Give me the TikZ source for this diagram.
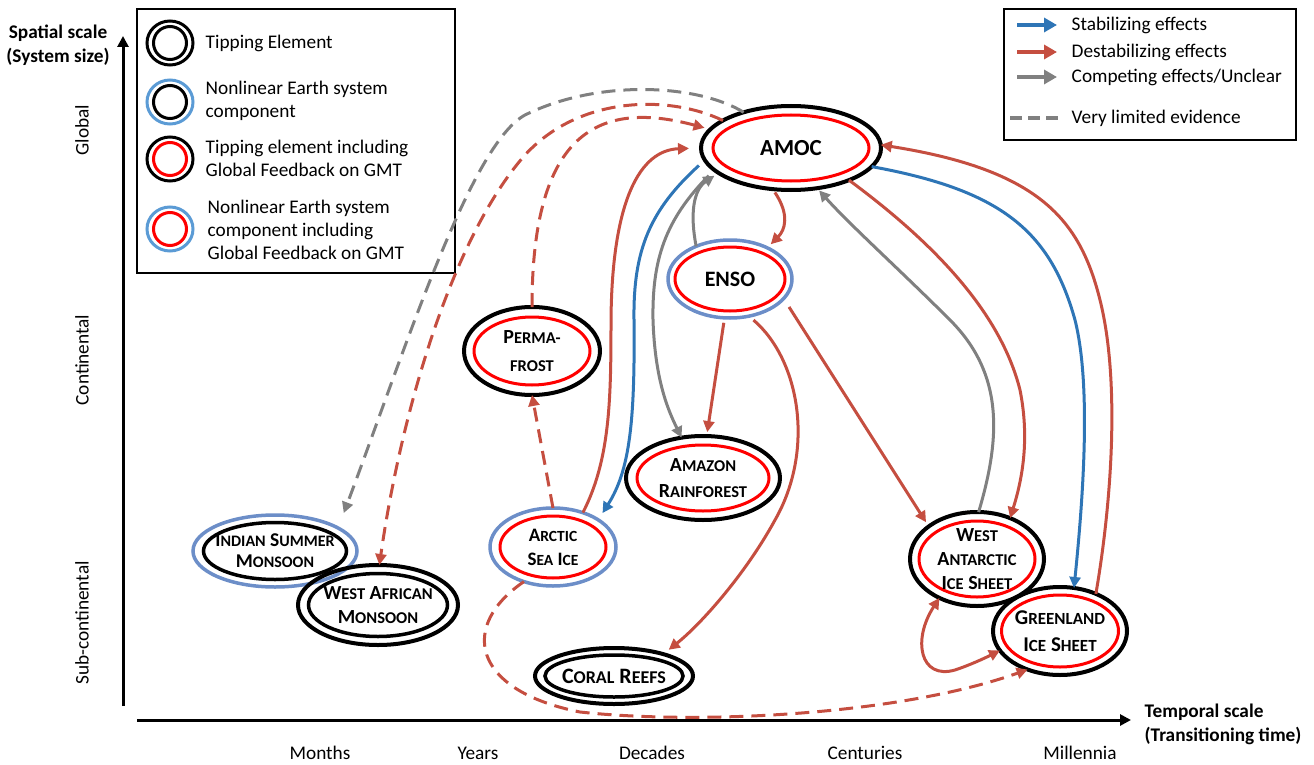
\documentclass[tikz,border=0pt]{standalone}
\usepackage{fontspec}
\setmainfont{Carlito}
\usetikzlibrary{arrows.meta,shapes.geometric}

\definecolor{destabred}{RGB}{197,78,64}
\definecolor{stabblue}{RGB}{46,117,182}
\definecolor{competgray}{RGB}{128,128,128}
\definecolor{ringred}{RGB}{255,0,0}
\definecolor{ringblue}{RGB}{108,142,200}
\definecolor{legblue}{RGB}{91,155,213}

\newcommand{\smcsize}{16.5}
\newcommand{\smc}[1]{{\fontsize{\smcsize}{\smcsize}\selectfont #1}}

\tikzset{every picture/.style={line width=0.75pt}}
\tikzset{
	>={Triangle[length=11pt,width=11pt]},
	outring/.style={ellipse, inner sep=0pt, outer sep=0pt, draw=#1, line width=4pt},
	outring/.default=black,
	inring/.style={ellipse, inner sep=0pt, outer sep=0pt, draw=#1, line width=3pt},
	inring/.default=ringred,
	lbl/.style n args={3}{align=center, inner sep=0pt, font=\fontsize{#1}{#2}\selectfont\bfseries\def\smcsize{#3}},
	legtext/.style={anchor=west, align=left, font=\fontsize{19.3}{23}\selectfont},
	axislabel/.style={font=\fontsize{19.3}{23}\selectfont},
	arr/.style={->, line width=3pt},
	stab/.style={arr, draw=stabblue},
	destab/.style={arr, draw=destabred},
	compet/.style={arr, draw=competgray},
	limited/.style={dash pattern=on 14pt off 8pt},
	axis/.style={line width=3pt, -{Triangle[length=11pt,width=11pt]}}
}

\begin{document}
\begin{tikzpicture}[x=1pt,y=1pt,yscale=-1,xscale=1]
	\useasboundingbox (0,0) rectangle (1314,765);

	% Axes
	\coordinate (yfoot) at (123,706);
	\coordinate (ytop) at (123,36);
	\coordinate (xfoot) at (137,720);
	\coordinate (xtop) at (1131,720);
	\draw [axis] (yfoot) -- (ytop);
	\draw [axis] (xfoot) -- (xtop);

	% Axis texts
	\node [axislabel, font=\fontsize{19.3}{24}\selectfont\bfseries, align=center] (spatial) at (58,45) {Spatial scale\\(System size)};
	\node [axislabel, font=\fontsize{19.3}{24}\selectfont\bfseries, anchor=west, align=left] (temporal) at (1141,724) {Temporal scale\\(Transitioning time)};
	\node [axislabel, rotate=90] (global) at (82,130) {Global};
	\node [axislabel, rotate=90] (continental) at (82,360) {Continental};
	\node [axislabel, rotate=90] (subcont) at (82,623) {Sub-continental};
	\node [axislabel] (months) at (320,753) {Months};
	\node [axislabel] (years) at (478,753) {Years};
	\node [axislabel] (decades) at (652,753) {Decades};
	\node [axislabel] (centuries) at (865,753) {Centuries};
	\node [axislabel] (millennia) at (1080,753) {Millennia};

	% Legend: node types
	\draw [line width=2.2pt] (137,9) rectangle (455,273);
	\node [outring, line width=3pt, minimum width=46pt, minimum height=44pt] (leg1) at (170,43) {};
	\node [inring=black, minimum size=33pt] (leg1in) at (leg1) {};
	\node [legtext] (leg1txt) at (202,43) {Tipping Element};
	\node [outring=legblue, line width=3pt, minimum width=46pt, minimum height=44pt] (leg2) at (170,102) {};
	\node [inring=black, minimum size=33pt] (leg2in) at (leg2) {};
	\node [legtext] (leg2txt) at (202,101) {Nonlinear Earth system\\component};
	\node [outring, line width=3pt, minimum width=46pt, minimum height=44pt] (leg3) at (170,159) {};
	\node [inring, minimum size=33pt] (leg3in) at (leg3) {};
	\node [legtext] (leg3txt) at (202,158) {Tipping element including\\Global Feedback on GMT};
	\node [outring=legblue, line width=3pt, minimum width=46pt, minimum height=44pt] (leg4) at (170,229) {};
	\node [inring, minimum size=33pt] (leg4in) at (leg4) {};
	\node [legtext] (leg4txt) at (204,230) {Nonlinear Earth system\\component including\\Global Feedback on GMT};

	% Legend: connector types
	\draw [line width=2.2pt] (1004,9) rectangle (1296,140);
	\node [legtext] (lstab) at (1068,25) {Stabilizing effects};
	\node [legtext] (ldestab) at (1068,52) {Destabilizing effects};
	\node [legtext] (lcompet) at (1068,77) {Competing effects/Unclear};
	\node [legtext] (llimited) at (1068,118) {Very limited evidence};
	\draw [stab, line width=4pt, -{Triangle[length=13pt,width=14pt]}] ([xshift=-51pt]lstab.west) -- ([xshift=-11pt]lstab.west);
	\draw [destab, line width=4pt, -{Triangle[length=13pt,width=14pt]}] ([xshift=-51pt]ldestab.west) -- ([xshift=-11pt]ldestab.west);
	\draw [compet, line width=4pt, -{Triangle[length=13pt,width=14pt]}] ([xshift=-51pt]lcompet.west) -- ([xshift=-11pt]lcompet.west);
	\draw [competgray, line width=4pt, dash pattern=on 12pt off 6pt] ([xshift=-58pt]llimited.west) -- ([xshift=-10pt]llimited.west);

	% Tipping elements
	\node [outring, minimum width=180pt, minimum height=84pt] (amoc) at (791,148) {};
	\node [inring, minimum width=156pt, minimum height=66pt] (amocin) at (amoc) {};
	\node [lbl={23}{26}{18}] (amoctxt) at (amoc) {AMOC};
	\node [outring=ringblue, line width=3.5pt, minimum width=124pt, minimum height=78pt] (enso) at (730,279) {};
	\node [inring, minimum width=110pt, minimum height=64pt] (ensoin) at (enso) {};
	\node [lbl={22}{26}{18}] (ensotxt) at (enso) {ENSO};
	\node [outring, minimum width=136pt, minimum height=88pt] (perma) at (532,351) {};
	\node [inring, minimum width=116pt, minimum height=68pt] (permain) at (perma) {};
	\node [lbl={20}{28}{16.5}] (permatxt) at (perma) {P\smc{ERMA-}\\\smc{FROST}};
	\node [outring, minimum width=154pt, minimum height=84pt] (amazon) at (703,478) {};
	\node [inring, minimum width=132pt, minimum height=66pt] (amazonin) at (amazon) {};
	\node [lbl={20}{26}{16.5}] (amazontxt) at (amazon) {A\smc{MAZON}\\R\smc{AINFOREST}};
	\node [outring=ringblue, line width=3.5pt, minimum width=126pt, minimum height=78pt] (arctic) at (553,547) {};
	\node [inring, minimum width=106pt, minimum height=62pt] (arcticin) at (arctic) {};
	\node [lbl={19}{24}{15.5}] (arctictxt) at (arctic) {A\smc{RCTIC}\\S\smc{EA} I\smc{CE}};
	\node [outring=ringblue, line width=3.5pt, minimum width=164pt, minimum height=72pt] (ism) at (275,551) {};
	\node [inring=black, line width=3.5pt, minimum width=143pt, minimum height=57pt] (ismin) at (ism) {};
	\node [lbl={19.5}{21}{16}] (ismtxt) at (ism) {I\smc{NDIAN} S\smc{UMMER}\\M\smc{ONSOON}};
	\node [outring, minimum width=160pt, minimum height=80pt] (wam) at (378,605) {};
	\node [inring=black, line width=3.5pt, minimum width=139pt, minimum height=63pt] (wamin) at (wam) {};
	\node [lbl={20}{24}{16.5}] (wamtxt) at (wam) {W\smc{EST} A\smc{FRICAN}\\M\smc{ONSOON}};
	\node [outring, minimum width=158pt, minimum height=56pt] (coral) at (614,676) {};
	\node [inring=black, line width=3.5pt, minimum width=138pt, minimum height=42pt] (coralin) at (coral) {};
	\node [lbl={22}{26}{18}] (coraltxt) at (coral) {C\smc{ORAL} R\smc{EEFS}};
	\node [outring, minimum width=134pt, minimum height=94pt] (wais) at (977,559) {};
	\node [inring, minimum width=116pt, minimum height=76pt] (waisin) at (wais) {};
	\node [lbl={20}{24}{16.5}] (waistxt) at (wais) {W\smc{EST}\\A\smc{NTARCTIC}\\I\smc{CE} S\smc{HEET}};
	\node [outring, minimum width=134pt, minimum height=88pt] (greenland) at (1060,631) {};
	\node [inring, minimum width=117pt, minimum height=72pt] (greenlandin) at (greenland) {};
	\node [lbl={21}{27}{17}] (greenlandtxt) at (greenland) {G\smc{REENLAND}\\I\smc{CE} S\smc{HEET}};

	% Very limited evidence
	\draw [compet, limited, shorten >=16pt] (amoc.143) .. controls (700,85) and (600,78) .. (525,115) .. controls (470,145) and (405,350) .. (ism.20);
	\draw [destab, limited] (amoc.158) .. controls (670,95) and (580,95) .. (525,155) .. controls (450,240) and (400,420) .. (wam.88);
	\draw [destab, limited, shorten >=6pt] (perma.north) .. controls (532,130) and (600,100) .. (amoc.167);
	\draw [destab, limited] (arctic.north) -- (perma.south);
	\draw [destab, limited] (arctic.230) .. controls (460,625) and (470,690) .. (580,712) .. controls (700,725) and (900,715) .. (greenland.230);

	% Arctic sea ice and AMOC
	\draw [destab, shorten >=12pt] (arctic.49) .. controls (610,460) and (611,400) .. (611,320) .. controls (612,200) and (640,150) .. (amoc.west);
	\draw [stab, shorten <=8pt, shorten >=8pt] (amoc.188) .. controls (650,210) and (633,250) .. (634,320) .. controls (635,420) and (630,470) .. (arctic.31);
	\draw [compet, shorten <=8pt] (amoc.196) .. controls (665,220) and (652,260) .. (653,320) .. controls (655,380) and (668,410) .. (amazon.118);

	% ENSO
	\draw [compet, shorten >=5pt] (enso.136) .. controls (690,215) and (693,190) .. (amoc.199);
	\draw [destab, shorten <=4pt, shorten >=5pt] (amoc.246) .. controls (790,215) and (785,230) .. (enso.40);
	\draw [destab, shorten <=5pt, shorten >=4pt] (enso.262) -- (amazon.85);
	\draw [destab, shorten <=6pt, shorten >=7pt] (enso.297) .. controls (800,360) and (815,450) .. (775,520) .. controls (745,575) and (700,625) .. (coral.24);
	\draw [destab, shorten <=10pt, shorten >=5pt] (enso.340) -- (wais.146);

	% Ice sheets
	\draw [compet, shorten >=3pt] (wais.88) .. controls (1000,440) and (1005,375) .. (950,320) .. controls (900,270) and (850,225) .. (amoc.303);
	\draw [destab] (amoc.331) .. controls (930,240) and (1000,310) .. (1020,390) .. controls (1030,440) and (1022,480) .. (wais.51);
	\draw [stab] (amoc.347) .. controls (1000,190) and (1050,230) .. (1075,320) .. controls (1090,380) and (1085,480) .. (greenland.72);
	\draw [destab] (greenland.46) .. controls (1112,500) and (1120,380) .. (1100,300) .. controls (1080,220) and (1040,170) .. (amoc.2);
	\draw [destab, <->] (wais.226) .. controls (912,640) and (920,680) .. (955,670) .. controls (970,665) and (985,658) .. (greenland.198);

\end{tikzpicture}
\end{document}
